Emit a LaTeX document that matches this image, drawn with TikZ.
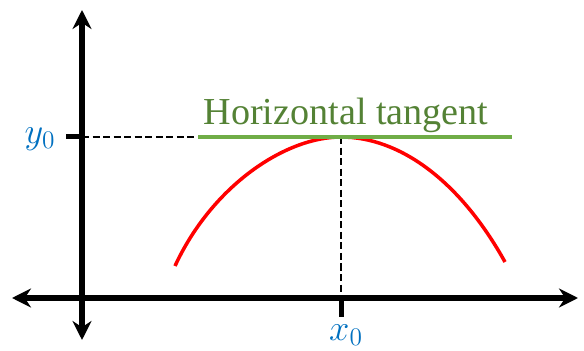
\documentclass[tikz,border=0pt]{standalone}
\usepackage{fontspec}
\setmainfont{Liberation Serif}
\usepackage{tikz}
\usetikzlibrary{
  arrows.meta,
  positioning,
}
\definecolor{curvered}{HTML}{FF0000}
\definecolor{tangentgreen}{HTML}{70AD47}
\definecolor{textgreen}{HTML}{548235}
\definecolor{labelblue}{HTML}{0070C0}

\begin{document}
\begin{tikzpicture}[
    x=0.02cm, y=0.02cm,
    axis/.style={line width=2.85pt, {Stealth[length=0.38cm, width=0.38cm]}-{Stealth[length=0.38cm, width=0.38cm]}},
    tickmark/.style={line width=2.85pt},
    guide/.style={line width=1.4pt, dash pattern=on 4pt off 2pt},
    lbl/.style={text=labelblue, inner sep=0pt, font=\fontsize{22}{26}\selectfont},
  ]
  \useasboundingbox (0,0) rectangle (584,351);
  % axes
  \coordinate (O)  at (82,53);
  \coordinate (xl) at (12,53);
  \coordinate (xr) at (578,53);
  \coordinate (yb) at (82,11);
  \coordinate (yt) at (82,341);
  \coordinate (P)  at (341,214);
  \coordinate (y0) at (82,214);
  \coordinate (x0) at (341,53);
  \coordinate (y0t) at (66,214);
  \coordinate (x0t) at (341,34);
  \coordinate (tl) at (198,214);
  \coordinate (tr) at (512,214);
  \coordinate (cl) at (175,85);
  \coordinate (cr) at (505,89);

  \draw[guide] (y0) -- (P);
  \draw[guide] (P) -- (x0);

  \draw[axis] (xl) -- (xr);
  \draw[axis] (yb) -- (yt);
  \draw[tickmark] (y0t) -- (y0);
  \draw[tickmark] (x0) -- (x0t);

  % the curve and its tangent at the top
  \draw[curvered, line width=2pt] (cl) .. controls (212,165) and (285,214) .. (P)
    .. controls (400,214) and (460,170) .. (cr);
  \draw[tangentgreen, line width=2.3pt] (tl) -- (tr);

  \node[lbl] (ylab) at (40,212) {$y_0$};
  \node[lbl] (xlab) at (346,16) {$x_0$};
  \node[text=textgreen, inner sep=0pt, anchor=base, font=\fontsize{21.7}{26}\selectfont]
    (tlab) at (346,226) {Horizontal tangent};
\end{tikzpicture}
\end{document}
